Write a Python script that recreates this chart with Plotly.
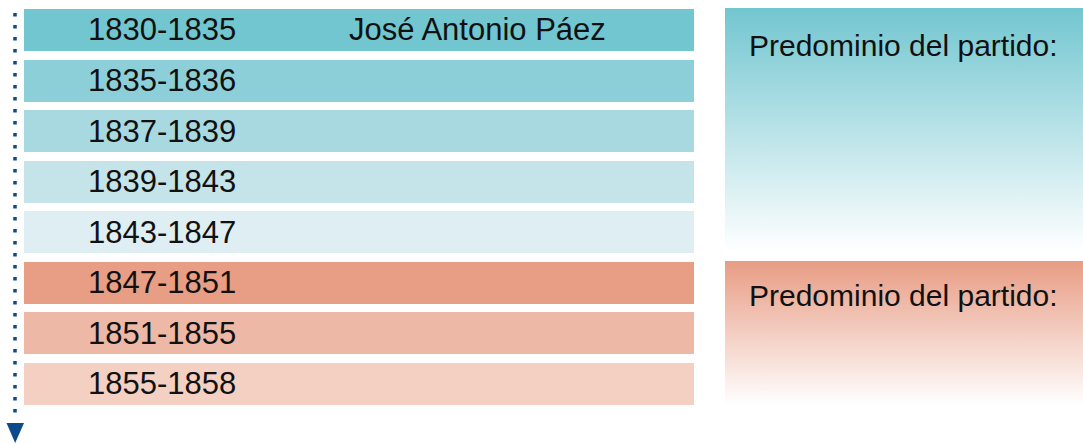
import plotly.graph_objects as go

# ---- data ----
periods = ["1830-1835", "1835-1836", "1837-1839", "1839-1843",
           "1843-1847", "1847-1851", "1851-1855", "1855-1858"]
leaders = ["José Antonio Páez", "", "", "", "", "", "", ""]
bar_colors = ["#72C6D0", "#8DCFD8", "#A9D9E0", "#C5E4E9",
              "#DFEEF2", "#E89E85", "#EDB8A5", "#F3D0C2"]
panel_labels = ["Predominio del partido:", "Predominio del partido:"]
panel_colors = ["#72C6D0", "#E89C84"]

FONT = "Liberation Sans, Arial, Helvetica, sans-serif"
W, H = 1083, 444
BAR_X0, BAR_X1 = 24, 694
DOT_COLOR = "#0B4A8B"

fig = go.Figure()

# timeline bars (categorical y axis)
fig.add_trace(go.Bar(
    y=periods, x=[BAR_X1 - BAR_X0] * len(periods), base=BAR_X0,
    orientation="h", width=0.83,
    marker=dict(color=bar_colors, line=dict(width=0)),
    hoverinfo="skip", showlegend=False,
    xaxis="x", yaxis="y",
))

for p, name in zip(periods, leaders):
    fig.add_annotation(x=162, y=p, xref="x", yref="y", text=p,
                       showarrow=False, xanchor="center", yanchor="middle",
                       font=dict(family=FONT, size=31, color="#111"))
    if name:
        fig.add_annotation(x=477, y=p, xref="x", yref="y", text=name,
                           showarrow=False, xanchor="center", yanchor="middle",
                           font=dict(family=FONT, size=31, color="#111"))

# gradient panels on a pixel overlay axis
panels = [(725, 1083, 8, 252), (725, 1083, 261, 405)]
label_y = [45, 295]
for (x0, x1, y0, y1), col, lab, ly in zip(panels, panel_colors, panel_labels, label_y):
    fig.add_trace(go.Scatter(
        x=[x0, x1, x1, x0, x0], y=[y0, y0, y1, y1, y0],
        mode="lines", line=dict(width=0), fill="toself",
        fillgradient=dict(type="vertical", colorscale=[[0, col], [1, "#FFFFFF"]],
                          start=y0, stop=y1),
        hoverinfo="skip", showlegend=False, xaxis="x2", yaxis="y2",
    ))
    fig.add_annotation(x=747, y=ly, xref="x2", yref="y2", text=lab,
                       showarrow=False, xanchor="left", yanchor="middle",
                       font=dict(family=FONT, size=30, color="#111"))

# dotted time arrow
fig.add_shape(type="line", x0=15, x1=15, y0=13, y1=417, xref="x2", yref="y2",
              line=dict(color=DOT_COLOR, width=3.5, dash="3.5px,8.5px"))
fig.add_shape(type="path", path="M 6.5,423 L 24,423 L 15.2,443 Z",
              xref="x2", yref="y2", fillcolor=DOT_COLOR, line=dict(width=0))

fig.update_layout(
    width=W, height=H, margin=dict(l=0, r=0, t=0, b=0),
    paper_bgcolor="white", plot_bgcolor="white",
    xaxis=dict(range=[0, W], visible=False, fixedrange=True),
    yaxis=dict(type="category", range=[8.187, -0.593], visible=False, fixedrange=True),
    xaxis2=dict(range=[0, W], visible=False, overlaying="x", fixedrange=True),
    yaxis2=dict(range=[H, 0], visible=False, overlaying="y", fixedrange=True),
    bargap=0,
)

fig.write_html("out.html", config={"displayModeBar": False},
               post_script="document.body.style.margin='0';document.body.style.overflow='hidden';")
